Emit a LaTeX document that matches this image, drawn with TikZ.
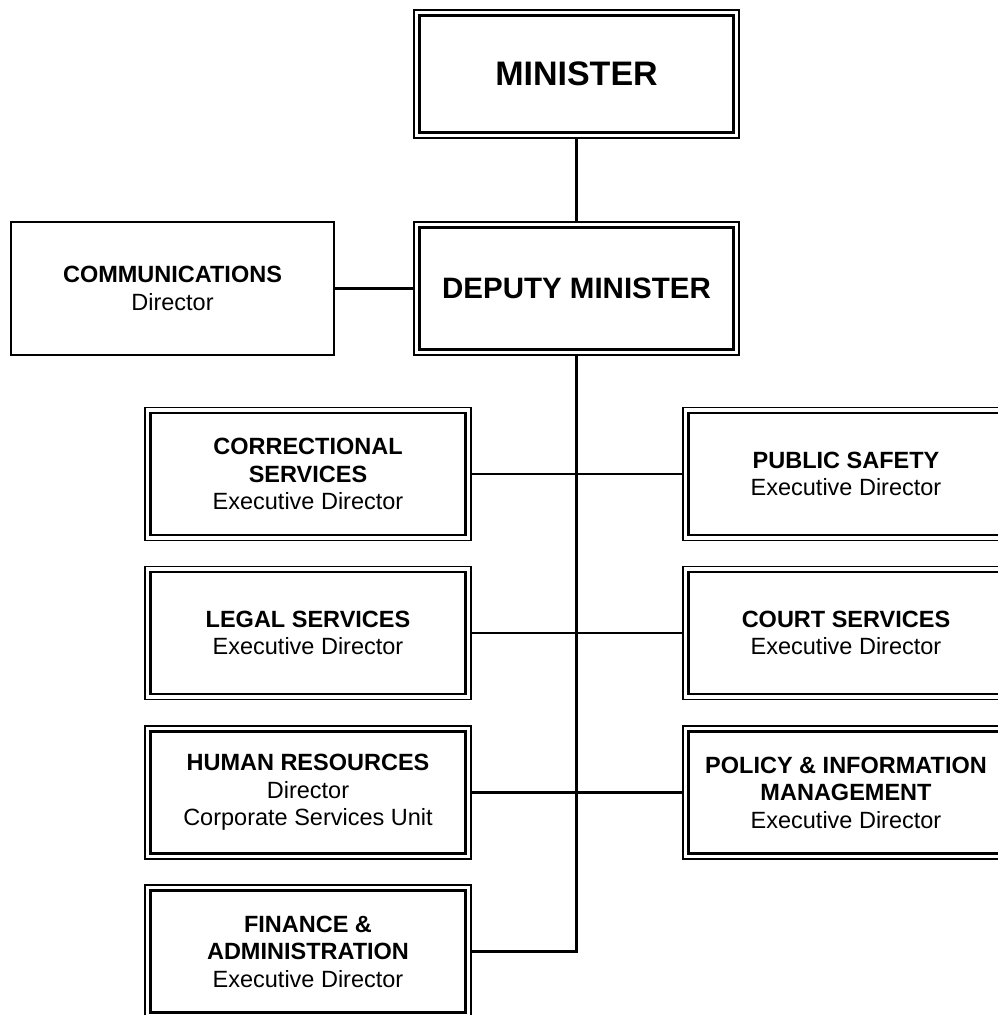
\documentclass[tikz,border=0pt]{standalone}
\usepackage{fontspec}
\setmainfont{Liberation Sans}
\begin{document}
\begin{tikzpicture}[x=1pt,y=-1pt,
  orgbox/.style={draw, line width=1.7pt, rectangle, inner sep=0pt, align=center,
    minimum width=326pt, minimum height=133pt,
    font=\fontsize{23.5}{27.5}\selectfont},
  plainbox/.style={orgbox, line width=2.2pt, minimum width=323pt},
  conn/.style={line width=2.3pt}]
\useasboundingbox (0,0) rectangle (998,1015);
\fill[white] (0,0) rectangle (998,1015);
\clip (0,0) rectangle (998,1015);
\node[orgbox, minimum width=325pt, minimum height=128pt, font=\fontsize{34}{38}\selectfont\bfseries] (min) at (576.5,74) {MINISTER};
\node[orgbox, minimum width=325pt, font=\fontsize{29.5}{33}\selectfont\bfseries] (dep) at (576.5,288.5) {DEPUTY MINISTER};
\node[plainbox] (com) at (172.5,288.5) {\textbf{COMMUNICATIONS}\\Director};
\node[orgbox] (cor) at (308,474) {\textbf{CORRECTIONAL}\\\textbf{SERVICES}\\Executive Director};
\node[orgbox] (leg) at (308,633) {\textbf{LEGAL SERVICES}\\Executive Director};
\node[orgbox] (hr) at (308,792.5) {\textbf{HUMAN RESOURCES}\\Director\\Corporate Services Unit};
\node[orgbox] (fin) at (308,951.5) {\textbf{FINANCE \&}\\\textbf{ADMINISTRATION}\\Executive Director};
\node[orgbox] (pub) at (846,474) {\textbf{PUBLIC SAFETY}\\Executive Director};
\node[orgbox] (cou) at (846,633) {\textbf{COURT SERVICES}\\Executive Director};
\node[orgbox] (pol) at (846,792.5) {\textbf{POLICY \& INFORMATION}\\\textbf{MANAGEMENT}\\Executive Director};
\foreach \n in {min,dep,cor,leg,hr,fin,pub,cou,pol}{
  \draw[line width=2.6pt] ([shift={(6.2pt,-6.2pt)}]\n.north west) rectangle ([shift={(-6.2pt,6.2pt)}]\n.south east);
}
\coordinate (bend) at (dep.south |- fin.east);
\draw[conn] (min.south) -- (dep.north);
\draw[conn] (com.east) -- (dep.west);
\draw[conn] (dep.south) -- (bend) -- (fin.east);
\draw[conn] (cor.east) -- (pub.west);
\draw[conn] (leg.east) -- (cou.west);
\draw[conn] (hr.east) -- (pol.west);
\end{tikzpicture}
\end{document}
